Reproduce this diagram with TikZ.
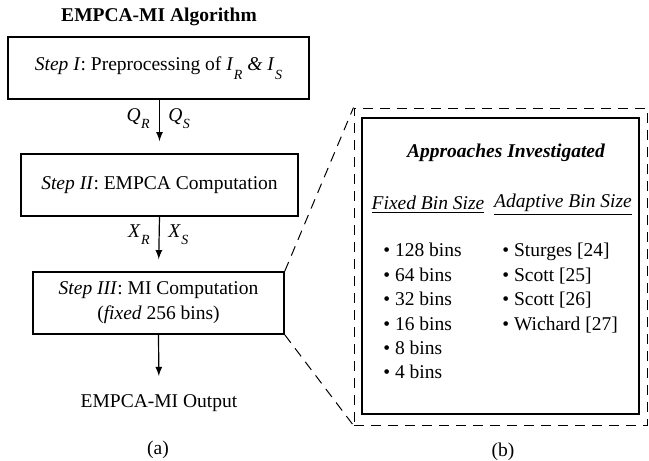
\documentclass[tikz,border=0pt]{standalone}
\usepackage{fontspec}
\setmainfont{Liberation Serif}
\usetikzlibrary{positioning}
\usetikzlibrary{arrows}
\newcommand\varsub[3][3.5pt]{\textit{#2}\kern0.2pt\raisebox{-#1}{\fontsize{7}{7}\selectfont\textit{#3}}}
\newcommand\bodyfont{\fontsize{9.75}{12.5}\selectfont}

\begin{document}
\begin{tikzpicture}[x=0.5pt,y=-0.5pt,
    every node/.style={font=\bodyfont, inner sep=0pt},
    stepbox/.style={draw, line width=0.75pt, minimum height=31pt, align=center},
    flow/.style={->, >=latex, line width=0.6pt, shorten >=6pt},
    zoomline/.style={dash pattern=on 5pt off 3.5pt, line width=0.5pt}]
    \useasboundingbox (0,0) rectangle (649,461);

    %% left panel: the algorithm
    \node[font=\bodyfont\bfseries] (title) at (159,17) {EMPCA-MI Algorithm};
    \node[stepbox, minimum width=150.5pt] (s1) at (158.5,68)
        {\textit{Step I}: Preprocessing of \varsub[4.5pt]{I}{R} \textit{\&} \varsub[4.5pt]{I}{S}};
    \node[stepbox, minimum width=138.5pt] (s2) at (159.5,185)
        {\textit{Step II}: EMPCA Computation};
    \node[stepbox, minimum width=125.5pt] (s3) at (158.5,303)
        {\textit{Step III}: MI Computation\\(\textit{fixed} 256 bins)};
    \node (out) at (159,403) {EMPCA-MI Output};
    \node (capa) at (158,450) {(a)};

    \draw[flow] (s1.south -| s2.north) -- (s2.north);
    \draw[flow] (s2.south) -- (s3.north);
    \draw[flow, shorten >=9pt] (s3.south) -- (out.north);

    % labels on the arrows
    \node[anchor=base east] (qr) at (150,121) {\varsub{Q}{R}};
    \node[anchor=base west] (qs) at (168,121) {\varsub{Q}{S}};
    \node[anchor=base east] (xr) at (150,237) {\varsub{X}{R}};
    \node[anchor=base west] (xs) at (168,237) {\varsub{X}{S}};

    %% right panel: the approaches
    \node[draw, zoomline, minimum width=146.5pt, minimum height=158.5pt] (zoom) at (500.5,266.5) {};
    \node[draw, line width=0.75pt, minimum width=138.5pt, minimum height=148pt] (panel) at (500.5,266) {};
    \draw[zoomline] (s3.north east) -- (zoom.north west);
    \draw[zoomline] (s3.south east) -- (zoom.south west);

    \node[font=\bodyfont\bfseries\itshape] (appr) at (506,153) {Approaches Investigated};
    \node (fixhd) at (428,205) {\underline{\textit{Fixed Bin Size}}};
    \node (adahd) at (563,205) {\underline{\textit{Adaptive Bin Size}}};

    \node[anchor=north west, align=left, font=\fontsize{9.75}{12.2}\selectfont] (fixlist) at (383,243)
        {• 128 bins\\• 64 bins\\• 32 bins\\• 16 bins\\• 8 bins\\• 4 bins};
    \node[anchor=north west, align=left, font=\fontsize{9.75}{12.2}\selectfont] (adalist) at (502,243)
        {• Sturges [24]\\• Scott [25]\\• Scott [26]\\• Wichard [27]};

    \node (capb) at (503,452) {(b)};
\end{tikzpicture}
\end{document}
